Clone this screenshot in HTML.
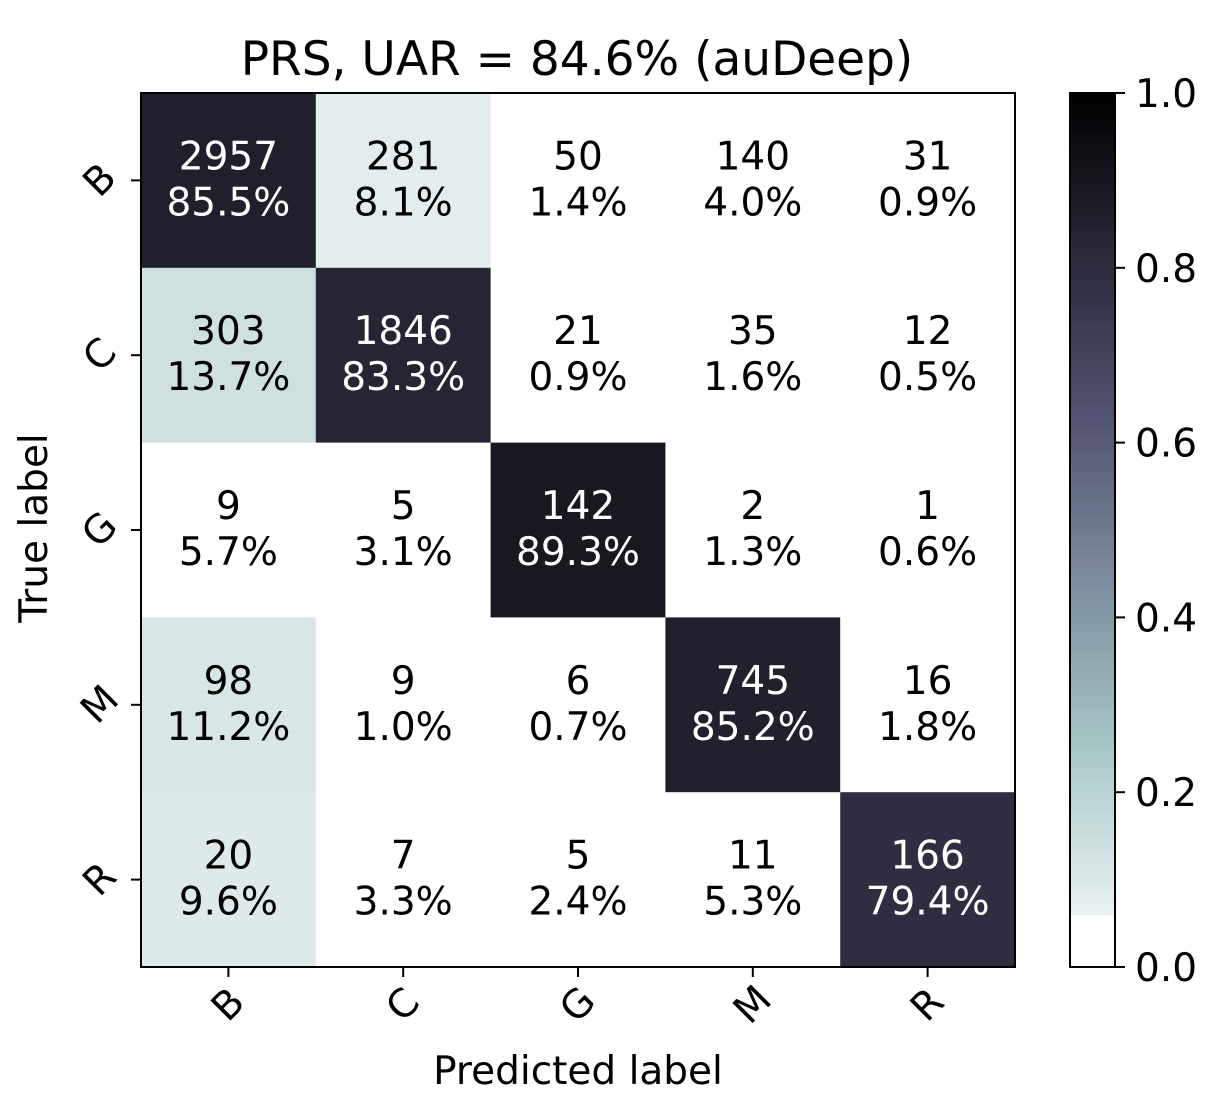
<!DOCTYPE html>
<html><head><meta charset="utf-8"><style>
html,body{margin:0;padding:0;background:#fff;}
svg{display:block;font-family:"DejaVu Sans","Liberation Sans",sans-serif;}
</style></head><body>
<svg id="chart" width="1232" height="1116" viewBox="0 0 1232 1116">
<text x="577" y="75" font-size="47" text-anchor="middle">PRS, UAR = 84.6% (auDeep)</text>
<g id="cells"></g>
<g id="axes"></g>
<g id="cbar"></g>
<text x="578" y="1084" font-size="39" text-anchor="middle">Predicted label</text>
<text x="0" y="0" font-size="39" text-anchor="middle" transform="translate(47,528) rotate(-90)">True label</text>
</svg>
<script>
const labels = ["B","C","G","M","R"];
const counts = [
 [2957,281,50,140,31],
 [303,1846,21,35,12],
 [9,5,142,2,1],
 [98,9,6,745,16],
 [20,7,5,11,166]
];
const percents = [
 [85.5,8.1,1.4,4.0,0.9],
 [13.7,83.3,0.9,1.6,0.5],
 [5.7,3.1,89.3,1.3,0.6],
 [11.2,1.0,0.7,85.2,1.8],
 [9.6,3.3,2.4,5.3,79.4]
];
const cbTicks = [0.0,0.2,0.4,0.6,0.8,1.0];

const NS="http://www.w3.org/2000/svg";
const X0=141,Y0=93,W=874,H=874,n=labels.length,cw=W/n,ch=H/n;
const xs=i=>X0+i*cw, ys=j=>Y0+j*ch;
const CBX=1070,CBW=45,cbY=v=>967-v*874;
function interp(segs,x){for(let k=1;k<segs.length;k++){if(x<=segs[k][0]){const a=segs[k-1],b=segs[k];return a[1]+(x-a[0])/(b[0]-a[0])*(b[1]-a[1]);}}return segs[segs.length-1][1];}
function boneR(v){
  if(v<0.058) return "rgb(255,255,255)";
  const x=1-v;
  const r=interp([[0,0],[0.746032,0.652778],[1,1]],x);
  const g=interp([[0,0],[0.365079,0.319444],[0.746032,0.777778],[1,1]],x);
  const b=interp([[0,0],[0.365079,0.444444],[1,1]],x);
  return `rgb(${Math.round(r*255)},${Math.round(g*255)},${Math.round(b*255)})`;
}
function mk(tag,attrs,parent,txt){const e=document.createElementNS(NS,tag);for(const k in attrs)e.setAttribute(k,attrs[k]);if(txt!==undefined)e.textContent=txt;parent.appendChild(e);return e;}
const cells=document.getElementById('cells');
for(let i=0;i<n;i++)for(let j=0;j<n;j++){
  const v=percents[i][j]/100;
  const r=mk('rect',{x:xs(j),y:ys(i),width:cw+0.5,height:ch+0.5,fill:boneR(v)},cells);
  
  
  const col=v>0.5?"#fff":"#000";
  const cx=xs(j)+cw/2, cy=ys(i)+ch/2;
  const t1=mk('text',{x:cx,y:cy-11,'font-size':39,'text-anchor':'middle',fill:col},cells,String(counts[i][j]));
  
  
  const t2=mk('text',{x:cx,y:cy+35,'font-size':39,'text-anchor':'middle',fill:col},cells,percents[i][j].toFixed(1)+'%');
  
  
}
const axes=document.getElementById('axes');
const fr=mk('rect',{x:X0,y:Y0,width:W,height:H,fill:'none',stroke:'#000','stroke-width':2},axes);


labels.forEach((l,i)=>{
  const cx=xs(i)+cw/2, cy=ys(i)+ch/2;
  mk('line',{x1:cx,y1:967,x2:cx,y2:977,stroke:'#000','stroke-width':2},axes);
  const tx=mk('text',{'font-size':39,'text-anchor':'middle','dominant-baseline':'central',transform:`translate(${cx},1005) rotate(-45)`},axes,l);
  
  
  mk('line',{x1:131,y1:cy,x2:141,y2:cy,stroke:'#000','stroke-width':2},axes);
  const ty=mk('text',{'font-size':39,'text-anchor':'middle','dominant-baseline':'central',transform:`translate(100,${cy}) rotate(-45)`},axes,l);
  
  
});
const cb=document.getElementById('cbar');
const steps=200;
for(let k=0;k<steps;k++){
  const v0=k/steps,v1=(k+1)/steps;
  mk('rect',{x:CBX,y:cbY(v1),width:CBW,height:cbY(v0)-cbY(v1)+0.6,fill:boneR((v0+v1)/2)},cb);
}
const cbf=mk('rect',{x:CBX,y:cbY(1),width:CBW,height:874,fill:'none',stroke:'#000','stroke-width':2},cb);


cbTicks.forEach(t=>{
  mk('line',{x1:CBX+CBW,y1:cbY(t),x2:CBX+CBW+10,y2:cbY(t),stroke:'#000','stroke-width':2},cb);
  const tl=mk('text',{x:1135,y:cbY(t)+14,'font-size':39},cb,t.toFixed(1));
  
  
});
</script>
</body></html>
